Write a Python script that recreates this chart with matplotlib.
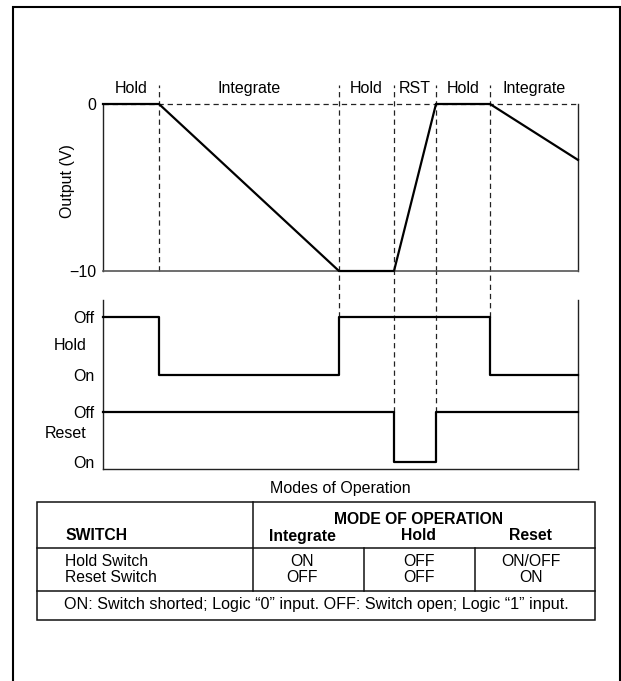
import matplotlib
matplotlib.use("Agg")
import matplotlib.pyplot as plt
from matplotlib.patches import Rectangle

plt.rcParams['font.family'] = ['Liberation Sans', 'DejaVu Sans']
plt.rcParams['lines.scale_dashes'] = False

# mode boundaries on the time axis (arbitrary units)
t_edges = [0, 56, 236, 291, 333, 387, 475]
mode_labels = ['Hold', 'Integrate', 'Hold', 'RST', 'Hold', 'Integrate']

# integrator output at each boundary (V)
v_out = [0, 0, -10, -10, 0, 0, -3.35]

# switch state for each mode segment: 1 = Off, 0 = On
hold_state = [1, 0, 1, 1, 1, 0]
reset_state = [1, 1, 1, 0, 1, 1]

# how far each inner boundary guide reaches into the switch panel
guide_depth = [None, 'hold', 'reset', 'reset', 'hold']

# table contents
switch_rows = ['Hold Switch', 'Reset Switch']
mode_cols = ['Integrate', 'Hold', 'Reset']
hold_sw = ['ON', 'OFF', 'ON/OFF']
reset_sw = ['OFF', 'OFF', 'ON']
footnote = 'ON: Switch shorted; Logic \u201c0\u201d input. OFF: Switch open; Logic \u201c1\u201d input.'

W, H = 621, 681
fig = plt.figure(figsize=(W / 100, H / 100), dpi=100)
fs = 11.3
dash = (3.8, 2.8)


def box(l, t, r, b):
    return [l / W, 1 - b / H, (r - l) / W, (b - t) / H]


# outer frame
fig.add_artist(Rectangle((13 / W, -0.02), (620 - 13) / W, 1.02 - 7 / H,
                         transform=fig.transFigure, fill=False, lw=1.5, ec='black'))

# ---- output voltage panel ----
ax = fig.add_axes(box(103, 104, 578, 271))
ax.set_xlim(t_edges[0], t_edges[-1])
ax.set_ylim(-10, 0)
ax.spines['top'].set_visible(False)
for s in ['left', 'right']:
    ax.spines[s].set_linewidth(1.0)
    ax.spines[s].set_color('#222222')
ax.spines['bottom'].set_linewidth(1.2)
ax.spines['bottom'].set_color('#555555')
ax.axhline(0, color='#222222', lw=0.9, ls='--', dashes=dash, clip_on=False)
ax.plot(t_edges, v_out, color='black', lw=1.6, zorder=5, clip_on=False,
        solid_joinstyle='miter')
ax.vlines(t_edges[1:-1], -10, 1.15, colors='#222222', lw=0.9,
          linestyles=(0, dash), clip_on=False)
for i, lab in enumerate(mode_labels):
    ax.text((t_edges[i] + t_edges[i + 1]) / 2, 0.9, lab, ha='center', va='center',
            fontsize=fs + 0.2)
ax.set_xticks([])
ax.set_yticks([0, -10])
ax.set_yticklabels(['0', '\u221210'], fontsize=fs + 0.2)
ax.tick_params(axis='y', length=0, pad=4.5)
ax.text(-0.074, 0.54, 'Output (V)', transform=ax.transAxes, rotation=90,
        ha='center', va='center', fontsize=fs + 0.2)

# ---- switch timing panel ----
bx = fig.add_axes(box(103, 300, 578, 469))
bx.set_xlim(t_edges[0], t_edges[-1])
bx.set_ylim(0, 169)
levels = {'hold': (94, 152), 'reset': (7, 57)}
bx.spines['top'].set_visible(False)
for s in ['left', 'right', 'bottom']:
    bx.spines[s].set_linewidth(1.0)
    bx.spines[s].set_color('#222222')

for name, states in [('hold', hold_state), ('reset', reset_state)]:
    on, off = levels[name]
    ys = [on + st * (off - on) for st in states]
    bx.step(t_edges, ys + [ys[-1]], where='post', color='black', lw=1.6,
            zorder=5, clip_on=False)

for t, d in zip(t_edges[1:-1], guide_depth):
    if d is None:
        continue
    bx.vlines(t, levels[d][1], 198, colors='#222222', lw=0.9,
              linestyles=(0, dash), clip_on=False)

bx.set_xticks([])
bx.set_yticks([levels['hold'][1], levels['hold'][0], levels['reset'][1], levels['reset'][0]])
bx.set_yticklabels(['Off', 'On', 'Off', 'On'], fontsize=fs + 0.2)
bx.tick_params(axis='y', length=0, pad=6)
bx.text(-0.034, 123, 'Hold', transform=bx.get_yaxis_transform(), ha='right',
        va='center', fontsize=fs + 0.2)
bx.text(-0.034, 36, 'Reset', transform=bx.get_yaxis_transform(), ha='right',
        va='center', fontsize=fs + 0.2)
bx.text(0.5, -(488 - 469) / 169, 'Modes of Operation', transform=bx.transAxes,
        ha='center', va='center', fontsize=fs + 0.2)

# ---- table ----
tx = fig.add_axes(box(37, 502, 595, 620))
tx.set_xlim(37, 595)
tx.set_ylim(620, 502)
tx.axis('off')
lc = '#111111'
tx.add_patch(Rectangle((37, 502), 558, 118, fill=False, lw=1.1, ec=lc, clip_on=False))
tx.plot([37, 595], [548, 548], color=lc, lw=1.1, clip_on=False)
tx.plot([37, 595], [591, 591], color=lc, lw=1.1, clip_on=False)
tx.plot([253, 253], [502, 591], color=lc, lw=1.1, clip_on=False)
col_div = [363.5, 474.5]
for x in col_div:
    tx.plot([x, x], [548, 591], color=lc, lw=1.1, clip_on=False)

col_x = [302, 419, 531]
tx.text(419, 519, 'MODE OF OPERATION', ha='center', va='center', fontsize=fs,
        fontweight='bold')
tx.text(65, 536, 'SWITCH', ha='left', va='center', fontsize=fs, fontweight='bold')
for x, lab in zip(col_x, mode_cols):
    tx.text(x, 536, lab, ha='center', va='center', fontsize=fs, fontweight='bold')
tx.text(65, 562, switch_rows[0], ha='left', va='center', fontsize=fs)
tx.text(65, 577, switch_rows[1], ha='left', va='center', fontsize=fs)
for x, a, b in zip(col_x, hold_sw, reset_sw):
    tx.text(x, 562, a, ha='center', va='center', fontsize=fs)
    tx.text(x, 577, b, ha='center', va='center', fontsize=fs)
tx.text(64, 605, footnote, ha='left', va='center', fontsize=11.6)

fig.savefig('out.png', dpi=100)
